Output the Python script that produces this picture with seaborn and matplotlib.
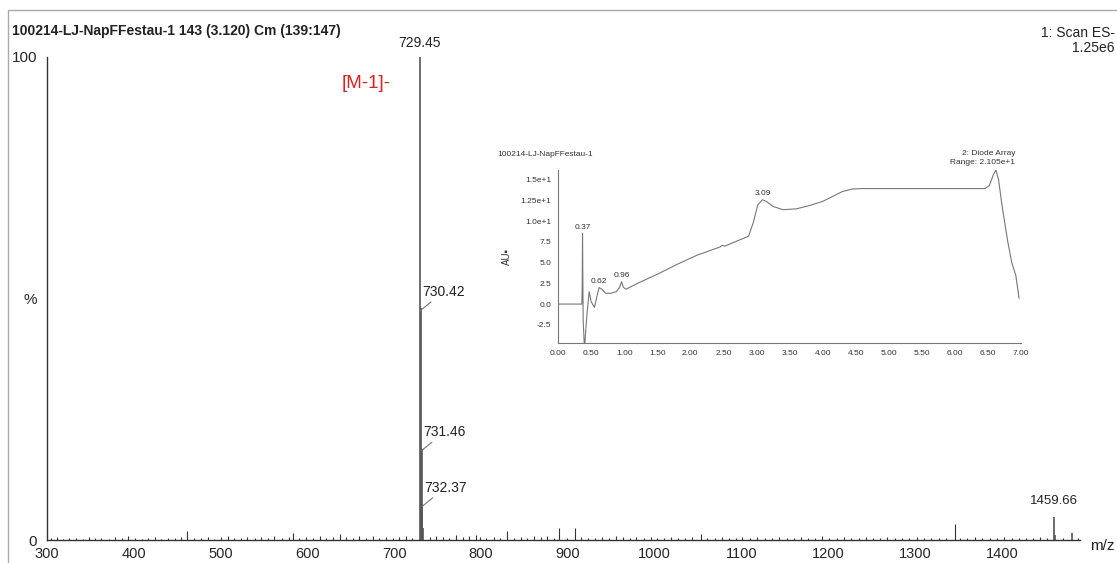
import numpy as np
import pandas as pd
import matplotlib
matplotlib.use("Agg")
import matplotlib.pyplot as plt
from matplotlib.ticker import MultipleLocator
import seaborn as sns

sns.set_style("white")
plt.rcParams['font.family'] = ['Liberation Sans', 'DejaVu Sans']

# main peaks of the mass spectrum (m/z, % intensity)
main_mz = [729.45, 730.42, 731.46, 732.37, 733.40, 1459.66, 1461.0, 1480.5]
main_int = [100.0, 48.0, 19.0, 7.5, 2.5, 4.8, 1.2, 1.6]

# small background peaks
noise_mz = [305, 312, 318, 326, 333, 341, 349, 355, 362, 371, 378, 386, 393, 401,
            409, 416, 424, 431, 440, 447, 455, 461, 469, 477, 486, 493, 501, 508,
            516, 523, 531, 540, 547, 555, 562, 571, 579, 583, 590, 598, 606, 614,
            621, 629, 637, 645, 652, 660, 668, 675, 683, 691, 699, 706, 714, 721,
            741, 748, 756, 763, 771, 779, 786, 794, 799, 806, 815, 822, 830, 838,
            846, 853, 861, 869, 876, 884, 890, 899, 908, 915, 923, 931, 939, 947,
            956, 963, 971, 979, 988, 996, 1003, 1011, 1019, 1027, 1035, 1043, 1053,
            1060, 1069, 1077, 1086, 1094, 1101, 1110, 1118, 1127, 1135, 1143, 1152,
            1160, 1168, 1177, 1185, 1193, 1201, 1210, 1218, 1226, 1235, 1243, 1252,
            1260, 1268, 1277, 1285, 1293, 1302, 1310, 1318, 1327, 1335, 1346, 1352,
            1360, 1369, 1377, 1386, 1394, 1402, 1411, 1420, 1428, 1436, 1444, 1452,
            1470, 1487]
noise_int = [0.5, 0.7, 0.4, 0.6, 0.5, 0.4, 0.8, 0.5, 0.6, 0.4, 0.7, 0.5, 0.9, 0.6,
             0.4, 0.5, 0.8, 0.4, 0.6, 0.5, 0.7, 1.9, 0.5, 0.6, 0.8, 0.4, 0.7, 0.9,
             0.5, 0.6, 0.8, 0.5, 0.7, 0.6, 0.9, 0.5, 0.8, 1.5, 0.6, 0.7, 0.5, 0.9,
             0.6, 0.8, 1.4, 0.7, 0.5, 0.9, 0.6, 1.0, 0.5, 0.8, 0.6, 0.7, 0.9, 0.6,
             0.7, 1.0, 0.8, 0.6, 1.1, 0.7, 0.9, 1.2, 0.8, 0.6, 0.7, 0.5, 2.0, 0.6,
             0.8, 0.5, 0.9, 0.7, 1.0, 0.6, 2.6, 0.5, 2.6, 0.7, 0.5, 0.6, 0.8, 0.5,
             0.9, 0.7, 0.6, 0.8, 0.5, 0.7, 0.6, 0.5, 0.8, 0.6, 0.5, 0.7, 1.3, 0.6,
             0.5, 0.7, 0.6, 0.5, 0.8, 0.6, 0.7, 0.5, 0.6, 0.8, 0.5, 0.6, 0.7, 0.5,
             0.6, 0.9, 0.5, 0.6, 0.7, 0.5, 0.6, 0.8, 0.5, 0.6, 0.7, 0.5, 0.6, 0.5,
             0.7, 0.6, 0.5, 0.6, 0.5, 3.4, 0.6, 0.5, 0.7, 0.5, 0.6, 0.5, 0.7, 0.5,
             0.6, 0.5, 0.6, 0.7, 0.5, 0.6, 0.5]

# inset diode array chromatogram (time in min, AU)
uv_time = [0.00, 0.20, 0.36, 0.365, 0.37, 0.375, 0.38, 0.40, 0.42, 0.44, 0.47,
           0.50, 0.55, 0.59, 0.62, 0.66, 0.72, 0.80, 0.88, 0.93, 0.96, 0.99, 1.03,
           1.20, 1.50, 1.80, 2.10, 2.45, 2.48, 2.52, 2.70, 2.88, 2.95, 3.02, 3.09,
           3.15, 3.25, 3.40, 3.60, 3.80, 4.00, 4.15, 4.30, 4.45, 4.60, 5.00, 5.50,
           6.00, 6.45, 6.52, 6.58, 6.62, 6.66, 6.72, 6.80, 6.86, 6.92, 6.97]
uv_au = [0.0, 0.0, 0.0, 2.0, 8.5, 3.0, -2.0, -5.5, -3.0, -1.0, 1.5,
         0.3, -0.4, 1.0, 2.0, 1.8, 1.3, 1.3, 1.5, 2.0, 2.7, 2.0, 1.8,
         2.5, 3.6, 4.8, 5.9, 6.9, 7.1, 7.0, 7.6, 8.2, 9.8, 12.0, 12.6,
         12.4, 11.8, 11.4, 11.5, 11.9, 12.4, 13.0, 13.6, 13.9, 13.95, 13.95, 13.95,
         13.95, 13.95, 14.3, 15.6, 16.2, 15.0, 11.5, 7.5, 5.0, 3.5, 0.7]
uv_peaks = [(0.37, 8.5, "0.37"), (0.62, 2.0, "0.62"), (0.96, 2.7, "0.96"), (3.09, 12.6, "3.09")]

ink = "#333333"
fig = plt.figure(figsize=(11.17, 5.63), dpi=100)

# page frame
fig.add_artist(plt.Line2D([0.007, 1.0], [0.982, 0.982], color="#aaaaaa", lw=1.0))
fig.add_artist(plt.Line2D([0.007, 0.007], [0.0, 0.982], color="#aaaaaa", lw=1.0))

ax = fig.add_axes([0.042, 0.040, 0.925, 0.859])
ax.vlines(noise_mz, 0, noise_int, color=ink, lw=0.8)
ax.vlines(main_mz, 0, main_int, color="#555555", lw=1.2)
ax.set_xlim(300, 1490)
ax.set_ylim(0, 100)
for s in ["top", "right"]:
    ax.spines[s].set_visible(False)
for s in ["left", "bottom"]:
    ax.spines[s].set_color(ink)
    ax.spines[s].set_linewidth(1.0)
ax.xaxis.set_major_locator(MultipleLocator(100))
ax.xaxis.set_minor_locator(MultipleLocator(10))
ax.set_yticks([0, 50, 100])
ax.set_yticklabels(["0", "%", "100"])
ax.tick_params(axis="x", which="major", direction="out", length=4, width=0.8,
               color=ink, labelsize=10.5, pad=0.5)
ax.tick_params(axis="x", which="minor", direction="out", length=2.5, width=0.6, color=ink)
ax.tick_params(axis="y", direction="out", length=6, width=0.8, color=ink, labelsize=11, pad=1)
ax.set_xlabel("")
ax.set_ylabel("")

# peak labels
ax.text(729.45, 101.5, "729.45", ha="center", va="bottom", fontsize=10, color="#222222", clip_on=False)
for mz, it, lab in [(730.42, 50.0, "730.42"), (731.46, 21.0, "731.46"), (732.37, 9.5, "732.37")]:
    ax.annotate(lab, xy=(mz - 0.5, it - 2.5), xytext=(mz + 2, it), fontsize=10,
                color="#222222", ha="left", va="bottom",
                arrowprops=dict(arrowstyle="-", color="#777777", lw=0.8, shrinkA=0, shrinkB=0))
ax.text(1459.66, 7.0, "1459.66", ha="center", va="bottom", fontsize=9.5, color="#222222")
ax.text(640, 94.5, "[M-1]-", ha="left", va="center", fontsize=13.5, color="#e02020")

fig.text(0.011, 0.945, "100214-LJ-NapFFestau-1 143 (3.120) Cm (139:147)", fontsize=10,
         fontweight="bold", color="#222222", va="center")
fig.text(0.998, 0.942, "1: Scan ES-", fontsize=10, ha="right", va="center", color="#222222")
fig.text(0.998, 0.914, "1.25e6", fontsize=10, ha="right", va="center", color="#222222")
fig.text(0.976, 0.030, "m/z", fontsize=11, ha="left", va="center", color="#222222")

# inset chromatogram
ins = fig.add_axes([0.4996, 0.3908, 0.4145, 0.3073])
uv = pd.DataFrame({"time": uv_time, "au": uv_au})
sns.lineplot(data=uv, x="time", y="au", ax=ins, color="#777777", lw=0.8, sort=False)
ins.set_xlim(0, 7.0)
ins.set_ylim(-4.7, 16.2)
for s in ["top", "right"]:
    ins.spines[s].set_visible(False)
for s in ["left", "bottom"]:
    ins.spines[s].set_color("#777777")
    ins.spines[s].set_linewidth(0.8)
ins.set_xticks(np.arange(0, 7.01, 0.5))
ins.set_xticklabels([f"{v:.2f}" for v in np.arange(0, 7.01, 0.5)])
ins.xaxis.set_minor_locator(MultipleLocator(0.1))
ins.set_yticks([-2.5, 0.0, 2.5, 5.0, 7.5, 10.0, 12.5, 15.0])
ins.set_yticklabels(["-2.5", "0.0", "2.5", "5.0", "7.5", "1.0e+1", "1.25e+1", "1.5e+1"])
ins.yaxis.set_minor_locator(MultipleLocator(0.5))
ins.tick_params(axis="both", which="major", direction="out", length=3, width=0.6,
                color="#777777", labelsize=6, pad=2, labelcolor="#333333")
ins.tick_params(axis="both", which="minor", direction="out", length=1.5, width=0.5, color="#999999")
ins.set_xlabel("")
ins.set_ylabel("AU\u25aa", fontsize=7, rotation=90, labelpad=6, color="#333333")
for t, a, lab in uv_peaks:
    ins.text(t, a + 0.3, lab, ha="center", va="bottom", fontsize=6, color="#333333")
ins.patch.set_alpha(0)

fig.text(0.445, 0.726, "100214-LJ-NapFFestau-1", fontsize=6, color="#333333", va="center")
fig.text(0.909, 0.727, "2: Diode Array", fontsize=6, ha="right", va="center", color="#333333")
fig.text(0.909, 0.711, "Range: 2.105e+1", fontsize=6, ha="right", va="center", color="#333333")

fig.savefig("out.png", dpi=100)
